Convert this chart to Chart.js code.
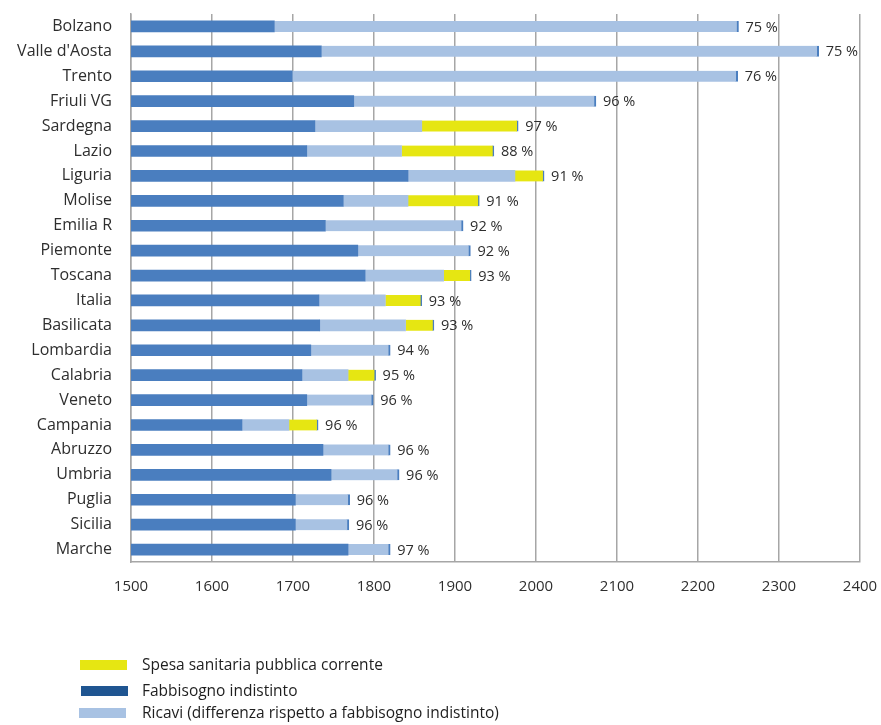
<!DOCTYPE html>
<html><head><meta charset="utf-8">
<script src="https://cdn.jsdelivr.net/npm/chart.js@4/dist/chart.umd.min.js"></script>
<style>html,body{margin:0;padding:0;background:#fff}#wrap{position:relative;width:881px;height:725px}</style>
</head><body><div id="wrap"><canvas id="c" width="881" height="725"></canvas></div>
<script>
const categories = ["Bolzano","Valle d'Aosta","Trento","Friuli VG","Sardegna","Lazio","Liguria","Molise","Emilia R","Piemonte","Toscana","Italia","Basilicata","Lombardia","Calabria","Veneto","Campania","Abruzzo","Umbria","Puglia","Sicilia","Marche"];
const fabbisogno = [1677,1735,1699,1775,1727,1717,1842,1762,1740,1780,1789,1732,1733,1722,1711,1717,1637,1737,1747,1703,1703,1768];
const ricavi = [2250,2349,2249,2074,1859,1834,1974,1842,1910,1919,1886,1814,1839,1820,1768,1799,1695,1820,1831,1770,1769,1820];
const spesa = [null,null,null,null,1978,1948,2010,1930,null,null,1920,1859,1874,null,1802,null,1731,null,null,null,null,null];
const percentuali = ["75 %","75 %","76 %","96 %","97 %","88 %","91 %","91 %","92 %","92 %","93 %","93 %","93 %","94 %","95 %","96 %","96 %","96 %","96 %","96 %","96 %","97 %"];
const xTicks = [1500,1600,1700,1800,1900,2000,2100,2200,2300,2400];
const seriesNames = ["Spesa sanitaria pubblica corrente","Fabbisogno indistinto","Ricavi (differenza rispetto a fabbisogno indistinto)"];

const FONT = "'Open Sans', sans-serif";
const C_DARK = '#4a7ebf', C_LIGHT = '#a8c2e3', C_YEL = '#e6e612';
const TXT = '#2e2e2e';

const darkData = fabbisogno.map(v => [xTicks[0], v]);
const lightData = ricavi.map((v,i) => [fabbisogno[i], v]);
const yelData = spesa.map((v,i) => v == null ? null : [ricavi[i], v]);

const pctPlugin = {
  id: 'pct',
  afterDatasetsDraw(chart) {
    const ctx = chart.ctx, xs = chart.scales.x, ys = chart.scales.y;
    ctx.save();
    ctx.font = '14.5px ' + FONT;
    ctx.fillStyle = TXT;
    ctx.textBaseline = 'middle';
    categories.forEach((c,i) => {
      const end = Math.max(ricavi[i], spesa[i] || 0);
      ctx.fillText(percentuali[i], xs.getPixelForValue(end) + 7, ys.getPixelForValue(i) + 1);
    });
    ctx.restore();
  }
};
const legendPlugin = {
  id: 'customLegend',
  afterDraw(chart) {
    const ctx = chart.ctx;
    const items = [[C_YEL, 80, 660], ['#1f5591', 81, 686], [C_LIGHT, 79, 708]];
    ctx.save();
    ctx.font = '15.5px ' + FONT;
    ctx.textBaseline = 'middle';
    items.forEach((it,k) => {
      ctx.fillStyle = it[0];
      ctx.fillRect(it[1], it[2], 47, 10);
      ctx.fillStyle = '#1e1e1e';
      ctx.fillText(seriesNames[k], 142, it[2] + 6);
    });
    ctx.restore();
  }
};

new Chart(document.getElementById('c'), {
  type: 'bar',
  data: {
    labels: categories,
    datasets: [
      { label: seriesNames[1], data: darkData, backgroundColor: C_DARK, barThickness: 11, grouped: false, borderWidth: 0 },
      { label: seriesNames[2], data: lightData, backgroundColor: C_LIGHT, barThickness: 11, grouped: false,
        borderSkipped: false, borderColor: C_DARK,
        borderWidth: ctx => ({top:0,bottom:0,left:0,right: spesa[ctx.dataIndex] == null ? 2 : 0}) },
      { label: seriesNames[0], data: yelData, backgroundColor: C_YEL, barThickness: 11, grouped: false,
        borderSkipped: false, borderColor: C_DARK, borderWidth: {top:0,bottom:0,left:0,right:1.5} }
    ]
  },
  options: {
    indexAxis: 'y',
    responsive: false,
    animation: false,
    layout: { padding: { top: 14, right: 21, bottom: 123, left: 0 } },
    plugins: { legend: { display: false }, tooltip: { enabled: false } },
    scales: {
      x: {
        min: 1500, max: 2400,
        afterFit: s => { s.height = 40; s.paddingLeft = 0; s.paddingRight = 0; },
        afterBuildTicks: s => { s.ticks = xTicks.map(v => ({ value: v })); },
        grid: { color: '#a6a6a6', lineWidth: 1.5, drawTicks: false },
        border: { color: '#a6a6a6', width: 1.5 },
        ticks: { color: TXT, font: { family: FONT, size: 15 }, padding: 16, callback: v => String(v) }
      },
      y: {
        afterFit: s => { s.width = 131; s.paddingTop = 0; s.paddingBottom = 0; },
        grid: { display: false, drawTicks: false },
        border: { color: '#a6a6a6', width: 1.5 },
        ticks: { color: TXT, font: { family: FONT, size: 16 }, padding: 19, autoSkip: false }
      }
    }
  },
  plugins: [pctPlugin, legendPlugin]
});
</script></body></html>
